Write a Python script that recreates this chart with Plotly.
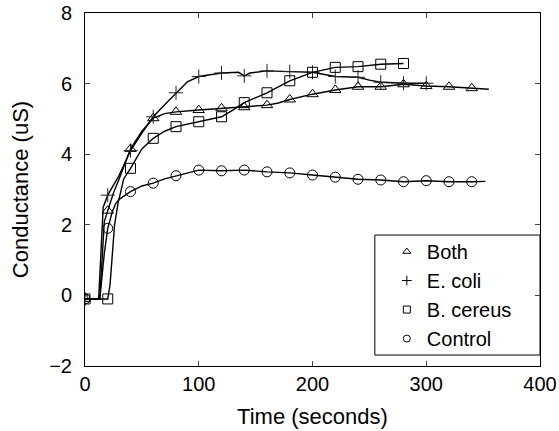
import plotly.graph_objects as go

# Data
both_t = [0, 13, 17, 20, 25, 30, 40, 50, 60, 70, 80, 100, 120, 140, 160, 170, 180, 200, 220, 240, 260, 280, 300, 320, 340, 355]
both_y = [-0.1, -0.1, 2.1, 2.4, 2.9, 3.3, 4.15, 4.65, 5.02, 5.15, 5.2, 5.25, 5.3, 5.33, 5.39, 5.45, 5.55, 5.7, 5.82, 5.91, 5.91, 5.98, 5.93, 5.91, 5.87, 5.84]

ecoli_t = [0, 12, 16, 20, 30, 40, 50, 60, 70, 80, 90, 100, 120, 135, 140, 145, 160, 180, 200, 220, 240, 250, 260, 280, 300]
ecoli_y = [-0.1, -0.1, 2.5, 2.84, 3.4, 4.1, 4.6, 5.06, 5.4, 5.74, 6.05, 6.2, 6.3, 6.32, 6.22, 6.3, 6.36, 6.34, 6.32, 6.2, 6.18, 6.1, 6.04, 6.01, 6.01]

bcer_t = [0, 20, 22, 26, 29, 34, 40, 50, 60, 70, 80, 100, 120, 130, 140, 160, 180, 200, 220, 240, 260, 280]
bcer_y = [-0.1, -0.1, 0.3, 2.0, 2.6, 3.3, 3.6, 4.15, 4.45, 4.65, 4.78, 4.92, 5.06, 5.25, 5.46, 5.74, 6.08, 6.32, 6.46, 6.48, 6.55, 6.57]

ctrl_t = [0, 13, 17, 20, 24, 27, 30, 40, 50, 60, 70, 80, 100, 120, 140, 160, 180, 200, 220, 240, 260, 280, 300, 320, 340, 352]
ctrl_y = [-0.1, -0.1, 1.2, 1.9, 2.37, 2.6, 2.72, 2.94, 3.1, 3.18, 3.3, 3.39, 3.55, 3.53, 3.55, 3.5, 3.47, 3.41, 3.35, 3.29, 3.27, 3.22, 3.25, 3.22, 3.22, 3.23]

series = [
    ("Both", both_t, both_y, "triangle-up-open"),
    ("E. coli", ecoli_t, ecoli_y, "cross-thin"),
    ("B. cereus", bcer_t, bcer_y, "square-open"),
    ("Control", ctrl_t, ctrl_y, "circle-open"),
]

x_ticks = [0, 100, 200, 300, 400]
y_ticks = [-2, 0, 2, 4, 6, 8]

FONT = "Liberation Sans, Arial, Helvetica, sans-serif"

fig = go.Figure()
for name, t, y, sym in series:
    fig.add_trace(go.Scatter(x=t, y=y, mode="lines", line=dict(color="black", width=1.4),
                             showlegend=False, hoverinfo="skip"))
    mt = [a for a in t if a % 20 == 0]
    my = [b for a, b in zip(t, y) if a % 20 == 0]
    fig.add_trace(go.Scatter(x=mt, y=my, mode="markers", showlegend=False,
                             marker=dict(symbol=sym, size=10, color="black",
                                         line=dict(color="#222", width=1))))
for name, t, y, sym in series:
    fig.add_trace(go.Scatter(x=[None], y=[None], mode="markers", name=name,
                             marker=dict(symbol=sym, size=7, color="black",
                                         line=dict(color="black", width=1))))

# legend frame
fig.add_shape(type="rect", xref="paper", yref="paper",
              x0=0.637, x1=1.0, y0=0.031, y1=0.371,
              line=dict(color="black", width=1), fillcolor="white", layer="below")

fig.update_layout(
    width=559, height=431,
    margin=dict(l=85, r=19, t=13, b=65, autoexpand=False),
    plot_bgcolor="white", paper_bgcolor="white",
    font=dict(family=FONT, size=20, color="black"),
    xaxis=dict(range=[0, 400], tickvals=x_ticks, ticks="inside", ticklen=5,
               showline=True, linecolor="black", linewidth=1, mirror="ticks",
               showgrid=False, zeroline=False, automargin=False,
               title=dict(text="Time (seconds)", font=dict(size=22), standoff=14)),
    yaxis=dict(range=[-2, 8], tickvals=y_ticks, ticks="inside", ticklen=5,
               showline=True, linecolor="black", linewidth=1, mirror="ticks",
               showgrid=False, zeroline=False, ticklabelstandoff=8, automargin=False,
               title=dict(text="Conductance (uS)", font=dict(size=22), standoff=14)),
    legend=dict(x=0.637, xanchor="left", y=0.201, yanchor="middle",
                bgcolor="rgba(0,0,0,0)", borderwidth=0,
                font=dict(size=20), itemwidth=30, indentation=12),
)
fig.write_html("out.html")
